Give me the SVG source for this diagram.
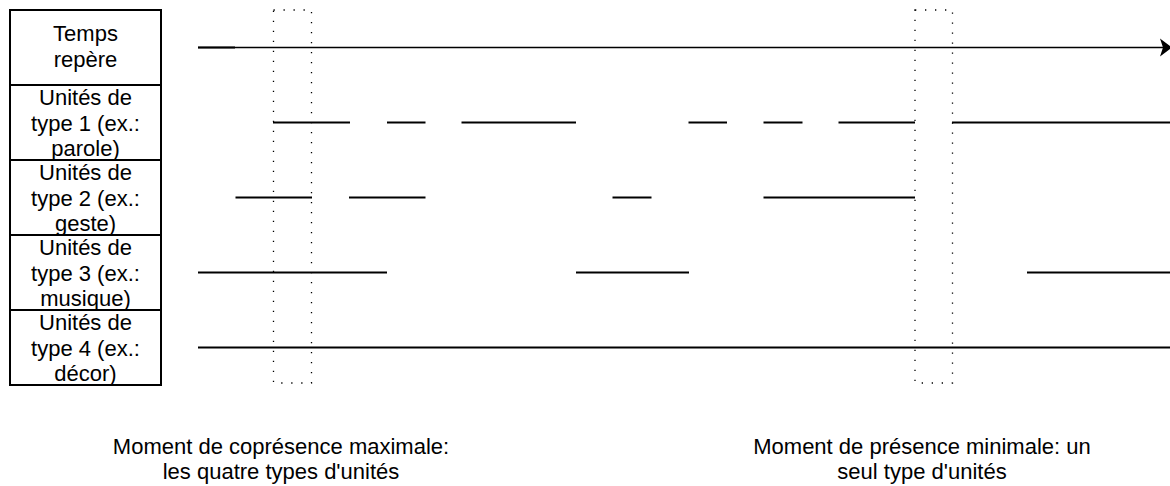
<svg xmlns="http://www.w3.org/2000/svg" width="1170" height="486" viewBox="0 0 1170 486">
  <style>
    .cell { fill: #ffffff; stroke: #000000; stroke-width: 2; }
    .lbl { font-family: "Liberation Sans", Arial, sans-serif; font-size: 22px; fill: #000000; text-anchor: middle; }
    .track { stroke: #000000; stroke-width: 2; fill: none; }
    .axis { stroke: #000000; stroke-width: 1.5; fill: none; }
    .window { fill: none; stroke: #000000; stroke-width: 1.3; stroke-dasharray: 1.3 8.7; }
  </style>
  <rect width="1170" height="486" fill="#ffffff"/>

  <!-- row headers -->
  <g id="row-temps">
    <rect class="cell" x="10" y="10" width="151" height="75"/>
    <text class="lbl" x="85.5" y="41">Temps</text>
    <text class="lbl" x="85.5" y="66.5">repère</text>
  </g>
  <g id="row-type1">
    <rect class="cell" x="10" y="85" width="151" height="75"/>
    <text class="lbl" x="85.5" y="105">Unités de</text>
    <text class="lbl" x="85.5" y="130.5">type 1 (ex.:</text>
    <text class="lbl" x="85.5" y="156">parole)</text>
  </g>
  <g id="row-type2">
    <rect class="cell" x="10" y="160" width="151" height="75"/>
    <text class="lbl" x="85.5" y="180">Unités de</text>
    <text class="lbl" x="85.5" y="205.5">type 2 (ex.:</text>
    <text class="lbl" x="85.5" y="231">geste)</text>
  </g>
  <g id="row-type3">
    <rect class="cell" x="10" y="235" width="151" height="75"/>
    <text class="lbl" x="85.5" y="255">Unités de</text>
    <text class="lbl" x="85.5" y="280.5">type 3 (ex.:</text>
    <text class="lbl" x="85.5" y="306">musique)</text>
  </g>
  <g id="row-type4">
    <rect class="cell" x="10" y="310" width="151" height="75"/>
    <text class="lbl" x="85.5" y="330">Unités de</text>
    <text class="lbl" x="85.5" y="355.5">type 4 (ex.:</text>
    <text class="lbl" x="85.5" y="381">décor)</text>
  </g>

  <!-- dotted time windows -->
  <g id="window-max">
    <rect class="window" x="273.5" y="10" width="38" height="373"/>
  </g>
  <g id="window-min">
    <rect class="window" x="915" y="10" width="37.5" height="373"/>
  </g>

  <!-- time axis and unit tracks -->
  <g id="connectors">
    <line class="axis" x1="198" y1="47.5" x2="1163" y2="47.5"/>
    <line class="track" x1="198" y1="47.5" x2="235" y2="47.5" stroke-width="2.5"/>
    <path d="M1160,38.5 L1172,47.5 L1160,56.5 L1163,47.5 Z" fill="#000000"/>

    <!-- type 1 -->
    <line class="track" x1="273" y1="122.5" x2="350" y2="122.5"/>
    <line class="track" x1="387" y1="122.5" x2="425.5" y2="122.5"/>
    <line class="track" x1="461.5" y1="122.5" x2="576" y2="122.5"/>
    <line class="track" x1="688.5" y1="122.5" x2="727" y2="122.5"/>
    <line class="track" x1="763.5" y1="122.5" x2="802.5" y2="122.5"/>
    <line class="track" x1="838.5" y1="122.5" x2="915" y2="122.5"/>
    <line class="track" x1="952" y1="122.5" x2="1170" y2="122.5"/>

    <!-- type 2 -->
    <line class="track" x1="235.5" y1="197.5" x2="312" y2="197.5"/>
    <line class="track" x1="349" y1="197.5" x2="425.5" y2="197.5"/>
    <line class="track" x1="612.5" y1="197.5" x2="651.5" y2="197.5"/>
    <line class="track" x1="763.5" y1="197.5" x2="915" y2="197.5"/>

    <!-- type 3 -->
    <line class="track" x1="198" y1="272.5" x2="387" y2="272.5"/>
    <line class="track" x1="576" y1="272.5" x2="689" y2="272.5"/>
    <line class="track" x1="1027" y1="272.5" x2="1170" y2="272.5"/>

    <!-- type 4 -->
    <line class="track" x1="198" y1="347.5" x2="1170" y2="347.5"/>
  </g>

  <!-- captions under the windows -->
  <g id="caption-max">
    <text class="lbl" x="281" y="453.5">Moment de coprésence maximale:</text>
    <text class="lbl" x="281" y="479">les quatre types d'unités</text>
  </g>
  <g id="caption-min">
    <text class="lbl" x="922" y="453.5">Moment de présence minimale: un</text>
    <text class="lbl" x="922" y="479">seul type d'unités</text>
  </g>
</svg>
